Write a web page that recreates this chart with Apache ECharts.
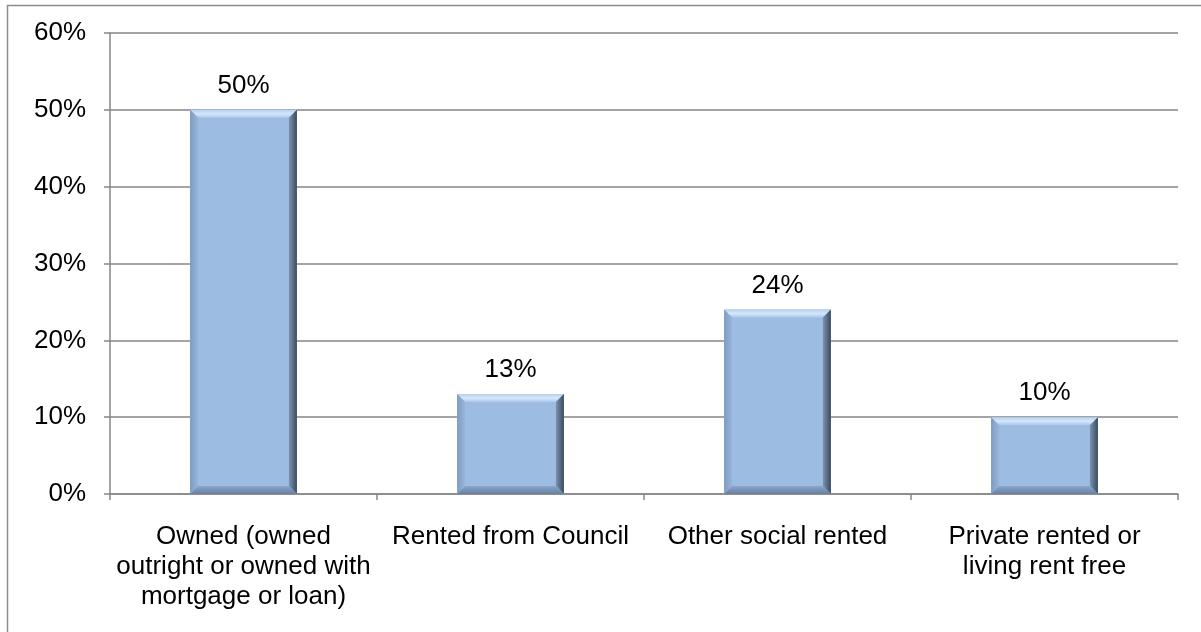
<!DOCTYPE html>
<html><head><meta charset="utf-8">
<script src="https://cdn.jsdelivr.net/npm/echarts@6/dist/echarts.min.js"></script>
<style>html,body{margin:0;padding:0;background:#fff}#c{width:1201px;height:632px}</style>
</head><body><div id="c"></div>
<script>
const categories = ["Owned (owned\noutright or owned with\nmortgage or loan)", "Rented from Council", "Other social rented", "Private rented or\nliving rent free"];
const values = [50, 13, 24, 10];
const yTicks = [0, 10, 20, 30, 40, 50, 60];

const chart = echarts.init(document.getElementById('c'), null, {renderer: 'canvas'});
const FONT = '"Liberation Sans", Arial, sans-serif';

function renderBar(params, api) {
  const v = api.value(1);
  const top = api.coord([api.value(0), v]);
  const base = api.coord([api.value(0), 0]);
  const bw = api.size([1, 0])[0] * 0.4;
  const x0 = top[0] - bw / 2, x1 = top[0] + bw / 2;
  const y0 = top[1], y1 = base[1];
  const b = 8;
  return {
    type: 'group',
    children: [
      {type: 'rect', shape: {x: x0, y: y0, width: bw, height: y1 - y0}, style: {fill: '#9dbce2'}},
      {type: 'polygon', shape: {points: [[x0, y0], [x1, y0], [x1 - b, y0 + b], [x0 + b, y0 + b]]},
        style: {fill: new echarts.graphic.LinearGradient(0, 0, 0, 1, [{offset: 0, color: '#b5cfee'}, {offset: 0.5, color: '#d6e8fa'}, {offset: 1, color: '#a9c6ea'}])}},
      {type: 'polygon', shape: {points: [[x1, y0], [x1, y1], [x1 - b, y1 - b], [x1 - b, y0 + b]]},
        style: {fill: new echarts.graphic.LinearGradient(0, 0, 1, 0, [{offset: 0, color: '#7d93b0'}, {offset: 1, color: '#3a4a5e'}])}},
      {type: 'polygon', shape: {points: [[x0, y0], [x0 + b, y0 + b], [x0 + b, y1 - b], [x0, y1]]},
        style: {fill: new echarts.graphic.LinearGradient(0, 0, 1, 0, [{offset: 0, color: '#7f9bc0'}, {offset: 1, color: '#98b6dc'}])}},
      {type: 'polygon', shape: {points: [[x0, y1], [x0 + b, y1 - b], [x1 - b, y1 - b], [x1, y1]]},
        style: {fill: new echarts.graphic.LinearGradient(0, 0, 0, 1, [{offset: 0, color: '#8aa6ca'}, {offset: 1, color: '#6880a0'}])}},
      {type: 'text', style: {text: Math.round(v) + '%', x: top[0], y: y0 - 11, align: 'center', verticalAlign: 'bottom', font: '26px ' + FONT, fill: '#000'}}
    ]
  };
}

chart.setOption({
  animation: false,
  graphic: [{type: 'rect', shape: {x: 7.5, y: 5.5, width: 1230, height: 700}, style: {fill: 'none', stroke: '#8c8c8c', lineWidth: 1.5}, z: 100}],
  grid: {left: 110, right: 23, top: 33, bottom: 138},
  xAxis: {
    type: 'category', data: categories,
    axisLine: {lineStyle: {color: '#868686', width: 1.5}},
    axisTick: {show: true, length: 6, alignWithLabel: false, lineStyle: {color: '#868686', width: 1.5}},
    axisLabel: {color: '#000', fontSize: 26, fontFamily: FONT, lineHeight: 30, margin: 28, interval: 0}
  },
  yAxis: {
    type: 'value', min: yTicks[0], max: yTicks[yTicks.length - 1], interval: 10,
    axisLine: {show: true, lineStyle: {color: '#868686', width: 1.5}},
    axisTick: {show: true, length: 6, lineStyle: {color: '#868686', width: 1.5}},
    axisLabel: {color: '#000', fontSize: 26, fontFamily: FONT, margin: 24, formatter: v => v + '%'},
    splitLine: {lineStyle: {color: '#868686', width: 1.5}}
  },
  series: [{
    type: 'custom',
    renderItem: renderBar,
    encode: {x: 0, y: 1},
    data: values.map((v, i) => [i, v])
  }]
});
</script></body></html>
